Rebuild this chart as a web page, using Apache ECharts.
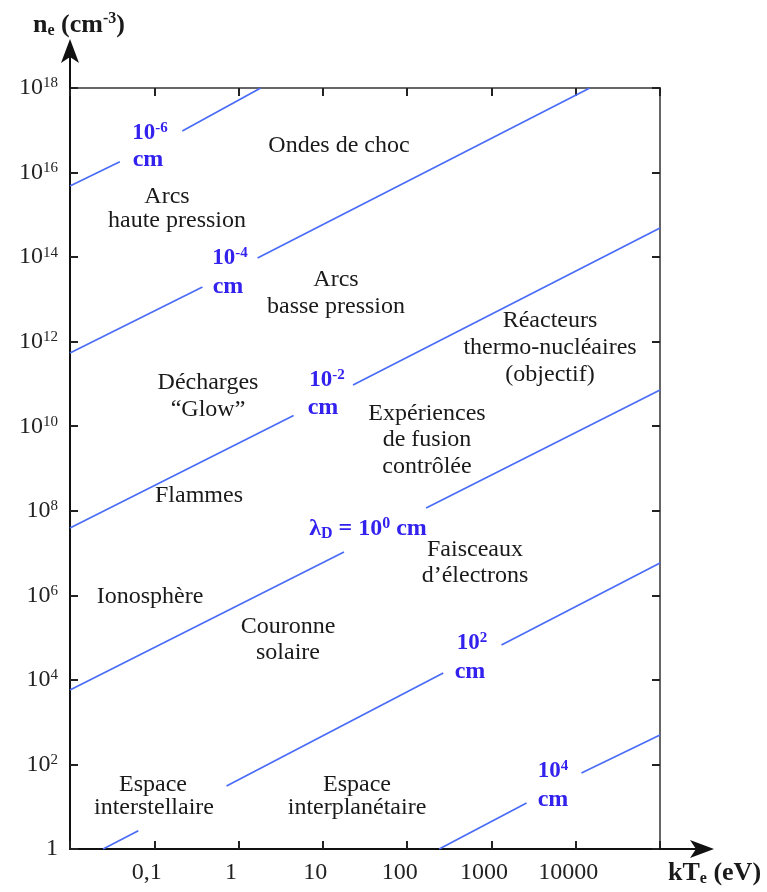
<!DOCTYPE html>
<html><head><meta charset="utf-8">
<script src="https://cdn.jsdelivr.net/npm/echarts@6/dist/echarts.min.js"></script>
<style>html,body{margin:0;padding:0;background:#fff}#c{width:767px;height:892px}</style>
</head><body><div id="c"></div>
<script>
// ---- data (kT_e in eV, n_e in cm^-3); null = gap behind a label ----
const xTickValues = [0.1, 1, 10, 100, 1000, 10000];
const xTickLabels = ['0,1', '1', '10', '100', '1000', '10000'];
const yTickExponents = [0, 2, 4, 6, 8, 10, 12, 14, 16, 18];
const debyeExponents = [-6, -4, -2, 0, 2, 4];
const line_m6 = [[0.01, 4.8e15], [0.039, 1.8e16], null, [0.215, 9.6e16], [1.83, 1e18]];
const line_m4 = [[0.01, 5.4e11], [0.373, 1.96e13], null, [1.68, 9.5e13], [1.47e4, 1e18]];
const line_m2 = [[0.01, 3.9e7], [4.5, 1.8e10], null, [22.8, 9.4e10], [1e5, 4.9e14]];
const line_0 = [[0.01, 5.8e3], [17.8, 1.06e7], null, [168, 1.17e8], [1e5, 7.2e10]];
const line_p2 = [[0.0247, 1], [0.0646, 2.7], null, [0.72, 31], [268, 1.45e4], null, [1315, 6.7e4], [1e5, 5.8e6]];
const line_p4 = [[240, 1], [2610, 12.2], null, [1.17e4, 63], [1e5, 500]];
const debyeLines = [line_m6, line_m4, line_m2, line_0, line_p2, line_p4];

// ---- build ----
const chart = echarts.init(document.getElementById('c'), null, {renderer: 'canvas'});
const SERIF = 'Liberation Serif, Times New Roman, serif';
const BLUE_LINE = '#4a6cf7';
const BLUE_TXT = '#3322ee';

function splitSegments(arr) {
  const segs = []; let cur = [];
  arr.forEach(p => { if (p === null) { if (cur.length) segs.push(cur); cur = []; } else cur.push(p); });
  if (cur.length) segs.push(cur);
  return segs;
}
const series = [];
debyeLines.forEach((ln, i) => {
  splitSegments(ln).forEach(seg => series.push({
    type: 'line', name: 'lambda_1e' + debyeExponents[i], data: seg, showSymbol: false, symbol: 'none',
    lineStyle: {color: BLUE_LINE, width: 1.7}, silent: true, animation: false, z: 3
  }));
});

function xFmt(v) {
  const i = xTickValues.findIndex(t => Math.abs(Math.log10(t) - Math.log10(v)) < 1e-6);
  return i >= 0 ? xTickLabels[i] : '';
}
function yFmt(v) {
  const e = Math.round(Math.log10(v));
  if (yTickExponents.indexOf(e) < 0) return '';
  return e === 0 ? '{b|1}' : '{b|10}{s|' + e + '}';
}
const yRich = {
  b: {fontFamily: SERIF, fontSize: 24, color: '#222', lineHeight: 24},
  s: {fontFamily: SERIF, fontSize: 15, color: '#222', verticalAlign: 'top', lineHeight: 15}
};
const axisCommon = {
  type: 'log', logBase: 10, splitLine: {show: false}, minorTick: {show: false},
  axisTick: {show: true, inside: true, length: 8, lineStyle: {color: '#222', width: 2}}
};

function blueLabel(x, y, exp) {
  return {type: 'text', x: x, y: y, z: 10, style: {
    text: '{b|10}{s|' + exp + '}', align: 'center', verticalAlign: 'middle',
    rich: {b: {fontFamily: SERIF, fontWeight: 'bold', fontSize: 23, fill: BLUE_TXT, lineHeight: 24},
           s: {fontFamily: SERIF, fontWeight: 'bold', fontSize: 15, fill: BLUE_TXT, verticalAlign: 'top', lineHeight: 15}}
  }};
}
function blueText(x, y, t) {
  return {type: 'text', x: x, y: y, z: 10, style: {text: t, align: 'center', verticalAlign: 'middle',
    font: 'bold 24px ' + SERIF, fill: BLUE_TXT}};
}
function blackText(x, y, t) {
  return {type: 'text', x: x, y: y, z: 10, style: {text: t, align: 'center', verticalAlign: 'middle',
    font: '24px ' + SERIF, fill: '#1a1a1a'}};
}
const blackLabels = [
  [339, 146, 'Ondes de choc'],
  [167, 197, 'Arcs'], [177, 221, 'haute pression'],
  [336, 280, 'Arcs'], [336, 307, 'basse pression'],
  [550, 321, 'Réacteurs'], [550, 348, 'thermo-nucléaires'], [550, 375, '(objectif)'],
  [208, 383, 'Décharges'], [208, 410, '“Glow”'],
  [427, 414, 'Expériences'], [427, 440, 'de fusion'], [427, 467, 'contrôlée'],
  [199, 496, 'Flammes'],
  [475, 550, 'Faisceaux'], [475, 576, 'd’électrons'],
  [150, 597, 'Ionosphère'],
  [288, 627, 'Couronne'], [288, 653, 'solaire'],
  [153, 785, 'Espace'], [154, 808, 'interstellaire'],
  [357, 785, 'Espace'], [357, 808, 'interplanétaire']
];
const graphics = [];
blackLabels.forEach(l => graphics.push(blackText(l[0], l[1], l[2])));
const blueSpots = [[150, 133, 148, 160], [230, 258, 228, 287], [327, 380, 323, 408], null, [472, 643, 470, 672], [553, 771, 553, 800]];
debyeExponents.forEach((e, i) => {
  const s = blueSpots[i];
  if (!s) return;
  graphics.push(blueLabel(s[0], s[1], e));
  graphics.push(blueText(s[2], s[3], 'cm'));
});
graphics.push({type: 'text', x: 368, y: 529, z: 10, style: {
  text: '{b|λ}{d|D}{b| = 10}{s|0}{b| cm}', align: 'center', verticalAlign: 'middle',
  rich: {b: {fontFamily: SERIF, fontWeight: 'bold', fontSize: 24, fill: BLUE_TXT, lineHeight: 26},
         d: {fontFamily: SERIF, fontWeight: 'bold', fontSize: 16, fill: BLUE_TXT, verticalAlign: 'bottom', lineHeight: 15},
         s: {fontFamily: SERIF, fontWeight: 'bold', fontSize: 16, fill: BLUE_TXT, verticalAlign: 'top', lineHeight: 15}}
}});
// axis names
graphics.push({type: 'text', x: 33, y: 25, z: 10, style: {
  text: '{b|n}{d|e}{b| (cm}{s|-3}{b|)}', align: 'left', verticalAlign: 'middle',
  rich: {b: {fontFamily: SERIF, fontWeight: 'bold', fontSize: 26, fill: '#1a1a1a', lineHeight: 28},
         d: {fontFamily: SERIF, fontWeight: 'bold', fontSize: 16, fill: '#1a1a1a', verticalAlign: 'bottom', lineHeight: 15},
         s: {fontFamily: SERIF, fontWeight: 'bold', fontSize: 16, fill: '#1a1a1a', verticalAlign: 'top', lineHeight: 15}}
}});
graphics.push({type: 'text', x: 668, y: 873, z: 10, style: {
  text: '{b|kT}{d|e}{b| (eV)}', align: 'left', verticalAlign: 'middle',
  rich: {b: {fontFamily: SERIF, fontWeight: 'bold', fontSize: 26, fill: '#1a1a1a', lineHeight: 28},
         d: {fontFamily: SERIF, fontWeight: 'bold', fontSize: 16, fill: '#1a1a1a', verticalAlign: 'bottom', lineHeight: 15}}
}});
// axis arrows (extensions beyond the plot frame)
graphics.push({type: 'line', z: 5, shape: {x1: 70, y1: 89, x2: 70, y2: 50}, style: {stroke: '#111', lineWidth: 2}});
graphics.push({type: 'polygon', z: 5, shape: {points: [[70, 39], [79, 63], [70, 57], [61, 63]]}, style: {fill: '#111'}});
graphics.push({type: 'line', z: 5, shape: {x1: 659, y1: 849, x2: 702, y2: 849}, style: {stroke: '#111', lineWidth: 2}});
graphics.push({type: 'polygon', z: 5, shape: {points: [[714, 849], [690, 840], [696, 849], [690, 858]]}, style: {fill: '#111'}});

chart.setOption({
  animation: false,
  backgroundColor: '#fff',
  grid: {left: 70, right: 107, top: 88, bottom: 43, show: true, borderColor: '#666', borderWidth: 2, backgroundColor: 'transparent'},
  xAxis: [
    Object.assign({}, axisCommon, {position: 'bottom', min: 0.01, max: 1e5, interval: 1,
      axisLine: {show: true, lineStyle: {color: '#111', width: 2}},
      axisLabel: {formatter: xFmt, fontFamily: SERIF, fontSize: 24, color: '#222', margin: 12, padding: [0, 15, 0, 0]}}),
    Object.assign({}, axisCommon, {position: 'top', min: 0.01, max: 1e5, interval: 1,
      axisLine: {show: true, lineStyle: {color: '#666', width: 2}}, axisLabel: {show: false}})
  ],
  yAxis: [
    Object.assign({}, axisCommon, {position: 'left', min: 1, max: 1e18, interval: 2,
      axisLine: {show: true, lineStyle: {color: '#111', width: 2}},
      axisLabel: {formatter: yFmt, rich: yRich, margin: 12}}),
    Object.assign({}, axisCommon, {position: 'right', min: 1, max: 1e18, interval: 2,
      axisLine: {show: true, lineStyle: {color: '#666', width: 2}}, axisLabel: {show: false}})
  ],
  series: series,
  graphic: graphics
});
</script>
</body></html>
